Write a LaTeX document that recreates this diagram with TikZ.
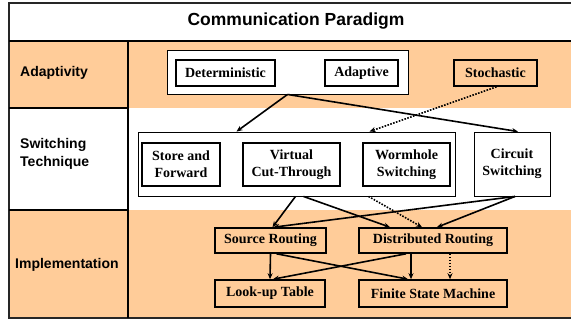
\documentclass[tikz,border=0pt]{standalone}
\usepackage{fontspec}
\setmainfont{Liberation Serif}
\setsansfont{Liberation Sans}
\usetikzlibrary{arrows.meta, positioning, calc}
\definecolor{peach}{RGB}{255,204,153}
\begin{document}
\begin{tikzpicture}[x=1pt, y=-1pt, font=\fontsize{14}{17}\selectfont\bfseries,
  rowlabel/.style = {anchor=west, font=\sffamily\fontsize{14}{18}\selectfont\bfseries, align=left, inner sep=0pt},
  groupbox/.style = {draw, fill=white, line width=0.9pt, inner sep=0pt},
  itembox/.style = {draw, line width=1.6pt, fill=white, inner sep=0pt, align=center},
  implbox/.style = {draw, line width=1.6pt, fill=peach, inner sep=0pt, align=center},
  arrow/.style = {-{Stealth[length=6pt, width=5pt]}, line width=1.6pt},
  dotarrow/.style = {arrow, dash pattern=on 1.6pt off 1.4pt}
]
\useasboundingbox (0,0) rectangle (571,323);
% bands
\fill[white] (9,3) rectangle (580,41);
\fill[peach] (9,41) rectangle (580,108);
\fill[white] (9,108) rectangle (580,210);
\fill[peach] (9,210) rectangle (580,318);
\draw[line width=1.5pt, black!85] (9,3) rectangle (580,318);
\draw[line width=1.8pt] (9,41) -- (580,41);
\draw[line width=1.5pt] (128,41) -- (128,318);
\draw[line width=1.5pt] (9,108) -- (128,108);
\draw[line width=1.5pt] (9,210) -- (128,210);
\node[font=\sffamily\fontsize{17.5}{20}\selectfont\bfseries] (title) at (296,21) {Communication Paradigm};
\node[rowlabel] (lbl_adapt) at (20,73) {Adaptivity};
\node[rowlabel] (lbl_switch) at (20,154) {Switching\\Technique};
\node[rowlabel] (lbl_impl) at (15,265) {Implementation};
% adaptivity
\node[groupbox, minimum width=241pt, minimum height=44pt] (adapt) at (287.5,72) {};
\node[itembox, minimum width=99pt, minimum height=26pt] (determ) at (225.5,73) {Deterministic};
\node[itembox, minimum width=73pt, minimum height=26pt] (adaptive) at (361.5,73) {Adaptive};
\node[implbox, minimum width=83pt, minimum height=26pt] (stoch) at (495.5,73) {Stochastic};
% switching
\node[groupbox, minimum width=317pt, minimum height=64pt] (switchgrp) at (296.5,164) {};
\node[itembox, minimum width=78pt, minimum height=43pt] (store) at (181,164.5) {Store and\\Forward};
\node[itembox, minimum width=97pt, minimum height=43pt] (virtual) at (291.5,164.5) {Virtual\\Cut-Through};
\node[itembox, minimum width=87pt, minimum height=43pt] (worm) at (406.5,164.5) {Wormhole\\Switching};
\node[groupbox, align=center, minimum width=76pt, minimum height=64pt] (circuit) at (512,164) {Circuit\\Switching};
% implementation
\node[implbox, minimum width=111pt, minimum height=25pt] (source) at (270.5,240.5) {Source Routing};
\node[implbox, minimum width=148pt, minimum height=25pt] (distr) at (433,240.5) {Distributed Routing};
\node[implbox, minimum width=110pt, minimum height=27pt] (lookup) at (270,293.5) {Look-up Table};
\node[implbox, minimum width=148pt, minimum height=27pt] (fsm) at (433,293.5) {Finite State Machine};
% arrows
\draw[arrow] (adapt.south) -- ([xshift=-60pt]switchgrp.north);
\draw[arrow] (adapt.south) -- ([xshift=6pt]circuit.north);
\draw[dotarrow] ([xshift=1pt]stoch.south) -- ([xshift=73pt]switchgrp.north);
\draw[arrow] ([xshift=-1pt]switchgrp.south) -- ([xshift=2pt]source.north);
\draw[arrow] ([xshift=7pt]switchgrp.south) -- ([xshift=-43pt]distr.north);
\draw[dotarrow] ([xshift=72pt]switchgrp.south) -- ([xshift=-11pt]distr.north);
\draw[arrow] ([xshift=3pt]circuit.south) -- ([xshift=3pt]source.north);
\draw[arrow] ([xshift=3pt]circuit.south) -- ([xshift=4pt]distr.north);
\draw[arrow] (source.south) -- (lookup.north);
\draw[arrow] ([xshift=6pt]source.south) -- ([xshift=-25pt]fsm.north);
\draw[arrow] ([xshift=-27pt]distr.south) -- ([xshift=3pt]lookup.north);
\draw[arrow] ([xshift=-22pt]distr.south) -- ([xshift=-22pt]fsm.north);
\draw[dotarrow] ([xshift=17pt]distr.south) -- ([xshift=17pt]fsm.north);
\end{tikzpicture}
\end{document}
